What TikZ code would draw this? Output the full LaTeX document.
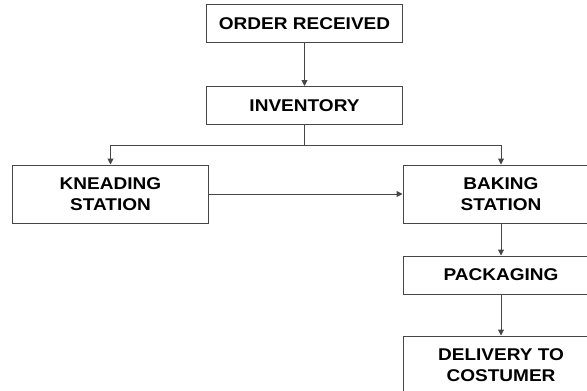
\documentclass[tikz,border=0pt]{standalone}
\usepackage{fontspec}
\setmainfont[FakeStretch=1.12]{Liberation Sans}
\usepackage{tikz}
\usetikzlibrary{arrows.meta,positioning}
\definecolor{edgecol}{RGB}{70,70,70}
\tikzset{
  stepbox/.style ={rectangle, draw=edgecol, line width=1pt, align=center,
                   minimum width=196pt, inner sep=0pt,
                   font=\fontsize{17}{21}\selectfont\bfseries},
  short/.style   ={stepbox, minimum height=38pt},
  tall/.style    ={stepbox, minimum height=58pt},
  flow/.style    ={-{Triangle[length=6pt,width=6pt]}, draw=edgecol, line width=1pt},
}
\begin{document}
\begin{tikzpicture}[x=1pt,y=-1pt]
    \clip (0,0) rectangle (587,391);
    \node[short] (order) at (304.5,23.5) {ORDER RECEIVED};
    \node[short] (inv) at (304.5,105.5) {INVENTORY};
    \node[tall] (knead) at (110.5,194) {KNEADING\\ STATION};
    \node[tall] (bake) at (501,194) {BAKING\\ STATION};
    \node[short] (pack) at (501,275) {PACKAGING};
    \node[tall] (deliv) at (501,365) {DELIVERY TO\\ COSTUMER};
    \coordinate (split) at (304.5,145);
    \draw[flow] (order) -- (inv);
    \draw[edgecol, line width=1pt] (inv.south) -- (split);
    \draw[flow] (split) -| (knead.north);
    \draw[flow] (split) -| (bake.north);
    \draw[flow] (knead) -- (bake);
    \draw[flow] (bake) -- (pack);
    \draw[flow] (pack) -- (deliv);
  \end{tikzpicture}
\end{document}
